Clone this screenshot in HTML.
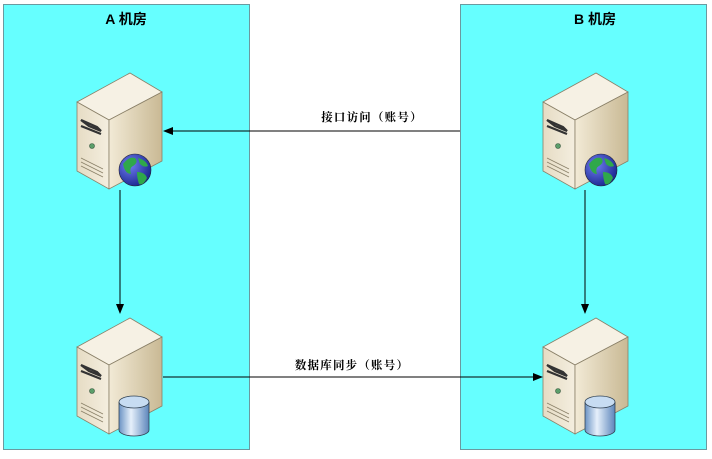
<!DOCTYPE html>
<html><head><meta charset="utf-8"><style>
body{margin:0;background:#fff;width:712px;height:454px;overflow:hidden}
</style></head><body>
<svg width="712" height="454" viewBox="0 0 712 454" xmlns="http://www.w3.org/2000/svg">
<defs>
<linearGradient id="fr" x1="0" y1="0" x2="1" y2="0"><stop offset="0" stop-color="#e6dcc4"/><stop offset="1" stop-color="#f4eedf"/></linearGradient>
<linearGradient id="sd" x1="0" y1="0" x2="1" y2="0"><stop offset="0" stop-color="#f2ead6"/><stop offset="1" stop-color="#c9b994"/></linearGradient>
<linearGradient id="cy" x1="0" y1="0" x2="1" y2="0"><stop offset="0" stop-color="#6b93c4"/><stop offset="0.4" stop-color="#e6f0fb"/><stop offset="1" stop-color="#5d86bb"/></linearGradient>
<radialGradient id="gl" cx="0.35" cy="0.35" r="0.7"><stop offset="0" stop-color="#6f7cf0"/><stop offset="1" stop-color="#1a2790"/></radialGradient>
<g id="srv">
<polygon points="0,29 53,0 85,19 32,47" fill="#f6f1e4" stroke="#8a8068" stroke-width="0.8"/>
<polygon points="0,29 32,47 32,116 0,98" fill="url(#fr)" stroke="#8a8068" stroke-width="0.8"/>
<polygon points="32,47 85,19 85,88 32,116" fill="url(#sd)" stroke="#8a8068" stroke-width="0.8"/>
<path d="M4,47 L20,54 L24,58 L12,53 Z M4,53 L24,61" stroke="#333" stroke-width="2.2" fill="none"/>
<circle cx="15" cy="73" r="2.5" fill="#5a9e6a" stroke="#3a5a40" stroke-width="0.6"/>
<path d="M4,85 L26,96 M4,89 L26,100 M4,93 L26,104" stroke="#8a8068" stroke-width="0.8"/>
</g>
<g id="globe"><circle r="16" fill="url(#gl)" stroke="#223" stroke-width="0.6"/>
<path d="M-12,-6 q6,-8 12,-6 q4,4 -2,8 q-4,2 -2,8 q-6,0 -8,-10z M3,-12 q8,2 10,8 q-4,2 -8,-2z M2,2 q8,0 10,6 q-4,8 -8,6 q-2,-6 -2,-12z" fill="#2fa84a"/></g>
<g id="db"><path d="M-15,-15 v28 a15,6 0 0 0 30,0 v-28" fill="url(#cy)" stroke="#345" stroke-width="0.8"/>
<ellipse cx="0" cy="-15" rx="15" ry="6" fill="#c7dcf2" stroke="#345" stroke-width="0.8"/></g>
<marker id="ar" markerWidth="10" markerHeight="8" refX="9" refY="4" orient="auto" markerUnits="userSpaceOnUse"><path d="M0,0 L10,4 L0,8 Z" fill="#000"/></marker>
</defs>
<rect x="3.5" y="4.5" width="246" height="445" fill="#66ffff" stroke="#6a9aa0" stroke-width="1"/>
<rect x="460.5" y="4.5" width="246" height="445" fill="#66ffff" stroke="#6a9aa0" stroke-width="1"/>
<text x="126" y="24" font-family="Liberation Sans, Noto Sans CJK SC, sans-serif" font-size="14" font-weight="bold" text-anchor="middle">A 机房</text>
<text x="595" y="24" font-family="Liberation Sans, Noto Sans CJK SC, sans-serif" font-size="14" font-weight="bold" text-anchor="middle">B 机房</text>
<use href="#srv" x="77" y="73"/><use href="#globe" x="135" y="170"/>
<use href="#srv" x="77" y="318"/><use href="#db" x="134" y="417"/>
<use href="#srv" x="543" y="73"/><use href="#globe" x="601" y="170"/>
<use href="#srv" x="543" y="318"/><use href="#db" x="600" y="417"/>
<line x1="460" y1="131" x2="164" y2="131" stroke="#000" marker-end="url(#ar)"/>
<line x1="163" y1="377" x2="542" y2="377" stroke="#000" marker-end="url(#ar)"/>
<line x1="120" y1="190" x2="120" y2="313" stroke="#000" marker-end="url(#ar)"/>
<line x1="585" y1="190" x2="585" y2="313" stroke="#000" marker-end="url(#ar)"/>
<text x="372" y="121" font-family="Liberation Serif, Noto Serif CJK SC, serif" font-size="11.5" font-weight="bold" letter-spacing="1.2" text-anchor="middle">接口访问（账号）</text>
<text x="352" y="369" font-family="Liberation Serif, Noto Serif CJK SC, serif" font-size="11.5" font-weight="bold" letter-spacing="1.2" text-anchor="middle">数据库同步（账号）</text>
</svg>
</body></html>
